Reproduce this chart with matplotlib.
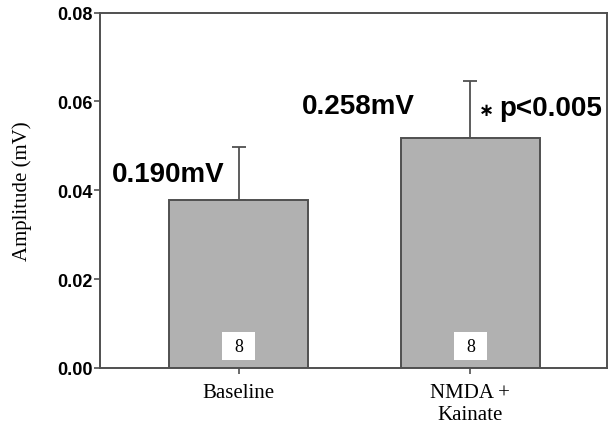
import matplotlib.pyplot as plt
from matplotlib.patches import Rectangle

# Data
groups = ["Baseline", "NMDA +\nKainate"]
amplitude = [0.0378, 0.0518]
sem = [0.0119, 0.0128]
n_cells = ["8", "8"]
bar_notes = ["0.190mV", "0.258mV"]
sig_note = "p<0.005"

fig = plt.figure(figsize=(6.09, 4.27), dpi=100)
ax = fig.add_axes([100 / 609, 58 / 427, 507 / 609, 355.5 / 427])

x = [0, 1]
ax.bar(x, amplitude, width=0.6, color="#b1b1b1", edgecolor="#505050", linewidth=1.4, zorder=2)
ax.errorbar(x, amplitude, yerr=[[0, 0], sem], fmt="none", ecolor="#505050",
            elinewidth=1.3, capsize=5, capthick=1.3, zorder=1)

# white boxes with n inside the bars
for xi, n in zip(x, n_cells):
    ax.add_patch(Rectangle((xi - 0.071, 0.0018), 0.142, 0.0063, fc="white", ec="none", zorder=3))
    ax.text(xi, 0.0049, n, ha="center", va="center", family="Liberation Serif",
            fontsize=13, zorder=4)

ax.text(-0.55, 0.0437, bar_notes[0], fontsize=20, fontweight="bold", family="Liberation Sans",
        ha="left", va="center")
ax.text(0.272, 0.0590, bar_notes[1], fontsize=20, fontweight="bold", family="Liberation Sans",
        ha="left", va="center")
ax.text(1.037, 0.0581, "\u2217", fontsize=13, fontweight="bold", family="DejaVu Sans",
        ha="left", va="center")
ax.text(1.123, 0.0586, sig_note, fontsize=20, fontweight="bold", family="Liberation Sans",
        ha="left", va="center")

ax.set_xlim(-0.6, 1.59)
ax.set_ylim(0, 0.08)
ax.set_yticks([0.00, 0.02, 0.04, 0.06, 0.08])
ax.set_yticklabels(["0.00", "0.02", "0.04", "0.06", "0.08"], fontweight="bold",
                   family="Liberation Sans", fontsize=13)
ax.set_xticks(x)
ax.set_xticklabels(groups, family="Liberation Serif", fontsize=15, linespacing=1.25)
ax.set_ylabel("Amplitude (mV)", family="Liberation Serif", fontsize=15, labelpad=18)

for s in ax.spines.values():
    s.set_color("#505050")
    s.set_linewidth(1.4)
ax.tick_params(axis="both", colors="#505050", labelcolor="black", length=4, width=1.2)
ax.tick_params(axis="y", pad=1.5)
ax.tick_params(axis="x", pad=6.5)

fig.savefig("out.png", dpi=100)
